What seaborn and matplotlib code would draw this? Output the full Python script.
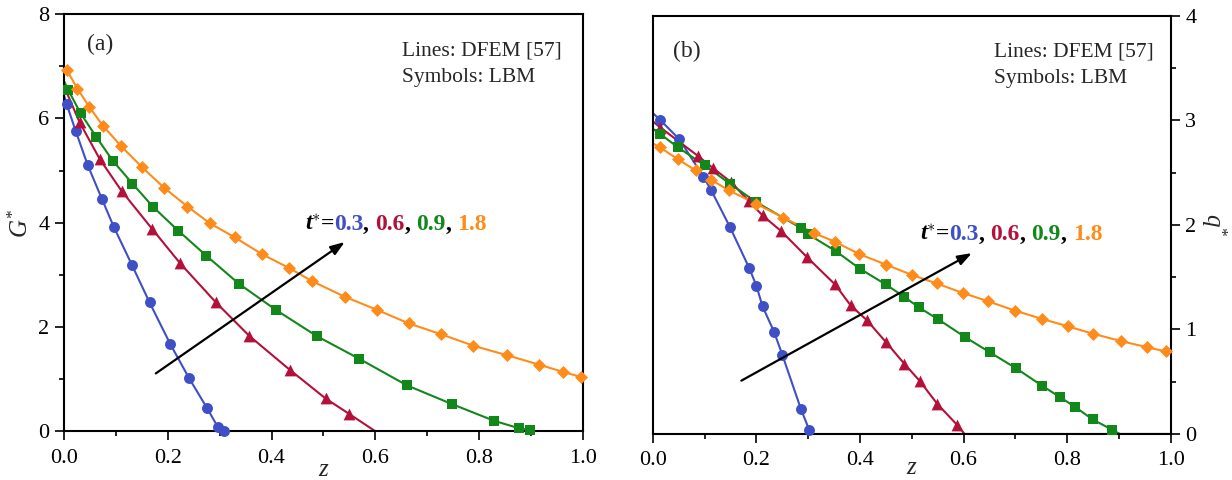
import matplotlib
matplotlib.use("Agg")
import matplotlib.pyplot as plt
from matplotlib.ticker import MultipleLocator
from matplotlib.offsetbox import TextArea, HPacker, AnnotationBbox
import seaborn as sns

# ---------------- data ----------------
times = ["0.3", "0.6", "0.9", "1.8"]
colors = ["#3f4fc6", "#b3103a", "#12871a", "#ff8c1a"]
markers = ["o", "^", "s", "D"]
marker_sizes = [62, 72, 46, 44]

# (a) G* vs z, LBM symbols
a_z_03 = [0.005, 0.023, 0.046, 0.073, 0.096, 0.131, 0.165, 0.205, 0.241, 0.276, 0.296, 0.308]
a_G_03 = [6.28, 5.75, 5.10, 4.46, 3.92, 3.19, 2.47, 1.67, 1.02, 0.44, 0.09, 0.0]
a_z_06 = [0.030, 0.069, 0.111, 0.170, 0.224, 0.292, 0.357, 0.435, 0.504, 0.550]
a_G_06 = [5.93, 5.22, 4.61, 3.88, 3.22, 2.48, 1.83, 1.18, 0.63, 0.33]
a_z_09 = [0.008, 0.032, 0.062, 0.094, 0.132, 0.172, 0.220, 0.274, 0.337, 0.408,
          0.488, 0.569, 0.661, 0.748, 0.829, 0.876, 0.898]
a_G_09 = [6.55, 6.10, 5.65, 5.19, 4.75, 4.30, 3.85, 3.37, 2.83, 2.33,
          1.82, 1.39, 0.88, 0.52, 0.20, 0.06, 0.02]
a_z_18 = [0.006, 0.026, 0.049, 0.075, 0.110, 0.150, 0.193, 0.238, 0.281, 0.329, 0.381,
          0.434, 0.478, 0.541, 0.603, 0.664, 0.727, 0.789, 0.853, 0.915, 0.961, 0.997]
a_G_18 = [6.92, 6.57, 6.22, 5.86, 5.47, 5.07, 4.67, 4.31, 3.99, 3.72, 3.40,
          3.13, 2.88, 2.58, 2.33, 2.07, 1.86, 1.64, 1.46, 1.28, 1.14, 1.04]
# DFEM curves: value at z = 0, z where the front reaches zero, value at z = 1
a_line_start = [6.45, 6.62, 6.72, 6.97]
a_line_zero = [0.310, 0.600, 0.902, None]
a_line_end = [0.0, 0.0, 0.0, 1.03]

# (b) q* vs z, LBM symbols
b_z_03 = [0.015, 0.051, 0.098, 0.113, 0.149, 0.186, 0.200, 0.212, 0.234, 0.250, 0.286, 0.302]
b_q_03 = [3.00, 2.82, 2.46, 2.33, 1.98, 1.59, 1.42, 1.22, 0.98, 0.76, 0.24, 0.04]
b_z_06 = [0.015, 0.087, 0.117, 0.151, 0.185, 0.212, 0.248, 0.298, 0.352, 0.382,
          0.413, 0.450, 0.486, 0.515, 0.549, 0.587]
b_q_06 = [2.93, 2.66, 2.54, 2.41, 2.23, 2.09, 1.94, 1.69, 1.43, 1.23,
          1.09, 0.88, 0.67, 0.51, 0.29, 0.09]
b_z_09 = [0.014, 0.049, 0.100, 0.150, 0.199, 0.286, 0.300, 0.353, 0.400, 0.450, 0.486,
          0.514, 0.550, 0.602, 0.651, 0.701, 0.752, 0.787, 0.815, 0.849, 0.887]
b_q_09 = [2.87, 2.74, 2.57, 2.39, 2.22, 1.97, 1.91, 1.75, 1.58, 1.43, 1.31,
          1.21, 1.10, 0.93, 0.78, 0.63, 0.46, 0.35, 0.26, 0.14, 0.04]
b_z_18 = [0.014, 0.048, 0.083, 0.113, 0.147, 0.200, 0.252, 0.312, 0.351, 0.399, 0.450,
          0.501, 0.548, 0.598, 0.647, 0.699, 0.752, 0.801, 0.849, 0.903, 0.954, 0.990]
b_q_18 = [2.74, 2.63, 2.52, 2.43, 2.33, 2.20, 2.07, 1.92, 1.84, 1.72, 1.62,
          1.52, 1.44, 1.35, 1.27, 1.18, 1.10, 1.03, 0.96, 0.89, 0.83, 0.79]
b_line_start = [3.07, 2.99, 2.92, 2.78]
b_line_zero = [0.305, 0.602, 0.902, None]
b_line_end = [0.0, 0.0, 0.0, 0.78]

# arrows (data coordinates): tail -> head
a_arrow = [(0.177, 1.11), (0.541, 3.63)]
b_arrow = [(0.171, 0.51), (0.616, 1.73)]

# ---------------- style ----------------
sns.set_theme(style="ticks")
serif = ["Liberation Serif", "DejaVu Serif"]
plt.rcParams["font.family"] = serif
plt.rcParams.update({
    "mathtext.fontset": "custom",
    "mathtext.rm": "Liberation Serif",
    "mathtext.it": "Liberation Serif:italic",
    "mathtext.bf": "Liberation Serif:bold",
    "mathtext.bfit": "Liberation Serif:italic:bold",
    "axes.edgecolor": "black",
    "axes.linewidth": 1.5,
    "xtick.color": "black",
    "ytick.color": "black",
    "xtick.direction": "out",
    "ytick.direction": "out",
    "xtick.major.size": 6.5,
    "ytick.major.size": 6.5,
    "xtick.minor.size": 3.5,
    "ytick.minor.size": 3.5,
    "xtick.major.width": 1.2,
    "ytick.major.width": 1.2,
    "xtick.minor.width": 1.2,
    "ytick.minor.width": 1.2,
    "xtick.labelsize": 16,
    "ytick.labelsize": 16,
})

fig = plt.figure(figsize=(12.32, 4.8), dpi=100)
ax_a = fig.add_axes([0.0519, 0.1015, 0.4213, 0.869])
ax_b = fig.add_axes([0.5298, 0.0958, 0.4205, 0.8715])


def draw_panel(ax, zs, vals, starts, zeros, ends):
    for i in range(4):
        lz = [0.0] + zs[i]
        lv = [starts[i]] + vals[i]
        if zeros[i] is not None:
            lz += [zeros[i], 1.0]
            lv += [0.0, ends[i]]
        else:
            lz += [1.0]
            lv += [ends[i]]
        sns.lineplot(x=lz, y=lv, ax=ax, color=colors[i], lw=1.5,
                     sort=False, estimator=None, zorder=2)
    for i in range(4):
        sns.scatterplot(x=zs[i], y=vals[i], ax=ax, color=colors[i],
                        marker=markers[i], s=marker_sizes[i], linewidth=0,
                        zorder=3, clip_on=False)


def time_label(ax, xy):
    pieces = [("$\\mathbfit{t}^{\\ast}$", "black"), ("=", "black"),
              (times[0], colors[0]), (", ", "black"),
              (times[1], colors[1]), (", ", "black"),
              (times[2], colors[2]), (", ", "black"),
              (times[3], colors[3])]
    areas = [TextArea(t, textprops=dict(color=c, fontsize=17, fontweight="bold",
                                        family=serif))
             for t, c in pieces]
    box = HPacker(children=areas, align="baseline", pad=0, sep=0)
    ab = AnnotationBbox(box, xy, xycoords="data", frameon=False,
                        box_alignment=(0, 0.5), pad=0)
    ax.add_artist(ab)


draw_panel(ax_a, [a_z_03, a_z_06, a_z_09, a_z_18], [a_G_03, a_G_06, a_G_09, a_G_18],
           a_line_start, a_line_zero, a_line_end)
draw_panel(ax_b, [b_z_03, b_z_06, b_z_09, b_z_18], [b_q_03, b_q_06, b_q_09, b_q_18],
           b_line_start, b_line_zero, b_line_end)

# axes (a)
ax_a.set_xlim(0, 1)
ax_a.set_ylim(0, 8)
ax_a.xaxis.set_major_locator(MultipleLocator(0.2))
ax_a.xaxis.set_minor_locator(MultipleLocator(0.1))
ax_a.yaxis.set_major_locator(MultipleLocator(2))
ax_a.yaxis.set_minor_locator(MultipleLocator(1))
ax_a.xaxis.set_major_formatter(lambda v, p: f"{v:.1f}")
ax_a.set_xlabel("$z$", fontsize=18)
ax_a.xaxis.set_label_coords(0.5, -0.066)
ax_a.set_ylabel("$G^{*}$", fontsize=18, labelpad=4)

# axes (b): value axis on the right
ax_b.set_xlim(0, 1)
ax_b.set_ylim(0, 4)
ax_b.xaxis.set_major_locator(MultipleLocator(0.2))
ax_b.xaxis.set_minor_locator(MultipleLocator(0.1))
ax_b.yaxis.set_major_locator(MultipleLocator(1))
ax_b.yaxis.set_minor_locator(MultipleLocator(0.5))
ax_b.xaxis.set_major_formatter(lambda v, p: f"{v:.1f}")
ax_b.yaxis.tick_right()
ax_b.yaxis.set_label_position("right")
ax_b.tick_params(axis="y", which="both", left=False, right=True)
ax_b.set_xlabel("$z$", fontsize=18)
ax_b.xaxis.set_label_coords(0.5, -0.056)
ax_b.set_ylabel("$q^{*}$", fontsize=18, rotation=270)
ax_b.yaxis.label.set(va="center", ha="center", rotation_mode="anchor")
ax_b.yaxis.set_label_coords(1.083, 0.5)

for ax in (ax_a, ax_b):
    ax.tick_params(axis="x", which="both", top=False, bottom=True, pad=6)
    ax.tick_params(axis="y", pad=4)
    for sp in ax.spines.values():
        sp.set_visible(True)
        sp.set_color("black")
        sp.set_linewidth(1.5)
    ax.set_zorder(1)

# captions
ax_a.text(0.044, 0.914, "(a)", transform=ax_a.transAxes, fontsize=17, va="baseline")
ax_b.text(0.039, 0.900, "(b)", transform=ax_b.transAxes, fontsize=17, va="baseline")
for ax, x0, y1, y2 in ((ax_a, 0.651, 0.902, 0.838), (ax_b, 0.659, 0.902, 0.840)):
    ax.text(x0, y1, "Lines: DFEM [57]", transform=ax.transAxes, fontsize=15.5, va="baseline")
    ax.text(x0, y2, "Symbols: LBM", transform=ax.transAxes, fontsize=15.5, va="baseline")

for ax, (tail, head) in ((ax_a, a_arrow), (ax_b, b_arrow)):
    ax.annotate("", xy=head, xytext=tail, xycoords="data",
                arrowprops=dict(arrowstyle="-|>,head_length=0.7,head_width=0.25",
                                color="black", lw=1.6, shrinkA=0, shrinkB=0))

time_label(ax_a, (0.464, 3.96))
time_label(ax_b, (0.516, 1.91))

fig.savefig("out.png", dpi=100, facecolor="white")
